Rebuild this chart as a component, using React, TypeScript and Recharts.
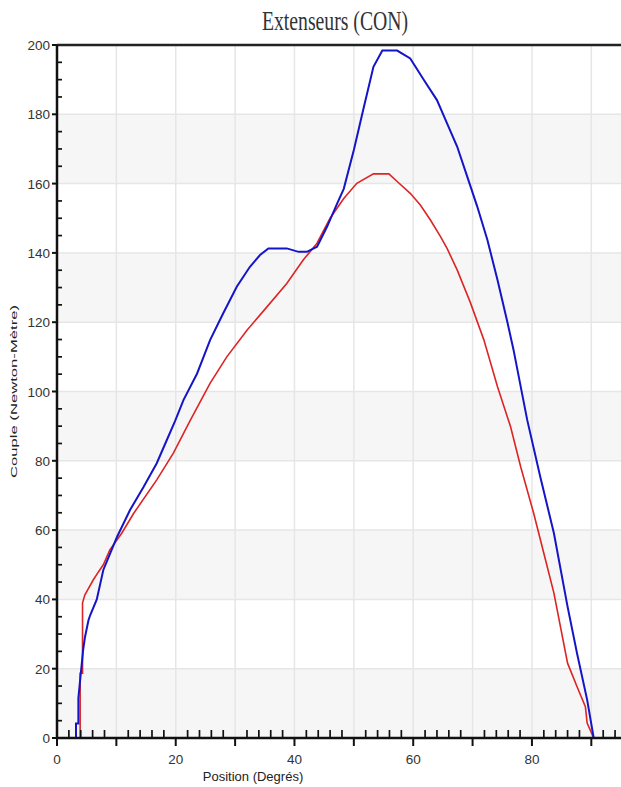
import React from 'react';
import { LineChart, Line, XAxis, YAxis, CartesianGrid, ReferenceLine } from 'recharts';

// Position (degrees) / torque (N·m) pairs
const blueCurve: [number, number][] = [
  [3.2, 0], [3.2, 4.2], [3.6, 4.2], [3.6, 11.5], [4.4, 25.4], [4.7, 29], [5.3, 34], [5.6, 35.5],
  [6.7, 40], [7.8, 48.5], [10.1, 58], [12.3, 65.8], [14.6, 72.5], [16.8, 79.3], [18.5, 86],
  [19.9, 91.5], [21.3, 97.5], [23.6, 105.2], [25.8, 114.9], [28, 122.6], [30.3, 130.3],
  [32.5, 136], [34.2, 139.4], [35.6, 141.3], [38.7, 141.3], [40.7, 140.3], [42.1, 140.3],
  [43.8, 141.8], [45.5, 147.6], [47.2, 154.3], [48.3, 158.5], [50, 169.7], [51.7, 182.2],
  [53.3, 193.7], [54.8, 198.4], [57.3, 198.4], [59.5, 196.1], [61.8, 189.9], [64, 184.1],
  [65.7, 177.4], [67.4, 170.7], [69.1, 162], [70.8, 153.3], [72.5, 143.7], [74.2, 132.2],
  [75.8, 120.5], [76.9, 112], [79.2, 91.8], [81.4, 75.4], [83.7, 59.1], [86, 37.9],
  [87.6, 24.4], [89.3, 11], [90.4, 0],
];

const redCurve: [number, number][] = [
  [3.9, 0], [3.9, 18.7], [4.3, 18.7], [4.3, 39], [4.7, 41.3], [6.1, 45.6], [7.0, 48], [7.8, 50],
  [8.9, 54.3], [10.9, 59.1], [12.9, 64.8], [16.8, 74.5], [19.6, 82.2], [22.4, 91.5],
  [25.8, 102.4], [28.6, 110], [32, 117.7], [35.4, 124.5], [38.7, 131.2], [41.5, 138],
  [43.8, 142.8], [46, 150], [48.3, 155.7], [50.5, 160.1], [53.3, 162.8], [55.9, 162.8],
  [57.3, 160.6], [59.5, 157.2], [61.2, 153.8], [62.9, 149.5], [64.6, 144.7], [65.7, 141.3],
  [67.4, 135.1], [69.6, 125.8], [71.9, 114.9], [74.2, 101.4], [76.4, 89.8], [78.1, 78.3],
  [80.3, 64.8], [82, 53.3], [83.7, 41.8], [86, 21.6], [87.6, 14.8], [89, 9], [89.3, 4.3],
  [90.4, 0],
];

const xTicks = [0, 2, 4, 6, 8, 10, 12, 14, 16, 18, 20, 22, 24, 26, 28, 30, 32, 34, 36, 38, 40, 42, 44, 46, 48, 50, 52, 54, 56, 58, 60, 62, 64, 66, 68, 70, 72, 74, 76, 78, 80, 82, 84, 86, 88, 90, 92, 94];
const yTicks = [0, 5, 10, 15, 20, 25, 30, 35, 40, 45, 50, 55, 60, 65, 70, 75, 80, 85, 90, 95, 100, 105, 110, 115, 120, 125, 130, 135, 140, 145, 150, 155, 160, 165, 170, 175, 180, 185, 190, 195, 200];
const xGrid = [10, 20, 30, 40, 50, 60, 70, 80, 90];
const yGrid = [0, 20, 40, 60, 80, 100, 120, 140, 160, 180, 200];

const title = 'Extenseurs (CON)';
const xTitle = 'Position (Degrés)';
const yTitle = 'Couple (Newton-Mètre)';

const blueData = blueCurve.map(([x, y]) => ({ x, y }));
const redData = redCurve.map(([x, y]) => ({ x, y }));

const FONT = '"Liberation Sans", Arial, sans-serif';

const XTick = (props: any) => {
  const { x, y, payload } = props;
  const v = payload.value;
  const major = v % 10 === 0;
  return (
    <g>
      {major ? (
        <line x1={x} x2={x} y1={y} y2={y + 8} stroke="#111" strokeWidth={2} />
      ) : (
        <line x1={x} x2={x} y1={y} y2={y - 8} stroke="#111" strokeWidth={1.7} />
      )}
      {v % 20 === 0 && (
        <text x={x} y={y + 26} textAnchor="middle" fontSize={13.5} fill="#333" fontFamily={FONT}>
          {v}
        </text>
      )}
    </g>
  );
};

const YTick = (props: any) => {
  const { x, y, payload } = props;
  const v = payload.value;
  const major = v % 20 === 0;
  return (
    <g>
      {major ? (
        <line x1={x - 5} x2={x} y1={y} y2={y} stroke="#111" strokeWidth={2} />
      ) : (
        <line x1={x} x2={x + 5} y1={y} y2={y} stroke="#111" strokeWidth={1.7} />
      )}
      {major && (
        <text x={x - 7} y={y + 5} textAnchor="end" fontSize={13.5} fill="#333" fontFamily={FONT}>
          {v}
        </text>
      )}
    </g>
  );
};

const YLabel = (props: any) => {
  const vb = props.viewBox || { x: 0, y: 45, width: 57, height: 693 };
  const cx = vb.x + 16.5;
  const cy = vb.y + vb.height / 2;
  return (
    <text
      x={cx}
      y={cy}
      transform={`rotate(-90 ${cx} ${cy})`}
      textAnchor="middle"
      fontSize={9.5}
      fill="#222"
      fontFamily={FONT}
      textLength={173}
      lengthAdjust="spacingAndGlyphs"
    >
      {yTitle}
    </text>
  );
};

const XLabel = (props: any) => {
  const vb = props.viewBox || { x: 57, y: 738, width: 564, height: 49 };
  return (
    <text x={vb.x + 196} y={vb.y + 43} textAnchor="middle" fontSize={13} fill="#222" fontFamily={FONT}>
      {xTitle}
    </text>
  );
};

export default function App() {
  return (
    <div style={{ position: 'absolute', left: 0, top: 0, width: 621, height: 787, background: '#fff', overflow: 'hidden' }}>
      <div
        style={{
          position: 'absolute',
          left: 0,
          top: 8,
          width: 670,
          textAlign: 'center',
          fontFamily: '"Liberation Serif", "Times New Roman", serif',
          fontSize: 27,
          lineHeight: '27px',
          color: '#333',
          transform: 'scaleX(0.73)',
          whiteSpace: 'nowrap',
        }}
      >
        {title}
      </div>
      <div style={{ position: 'absolute', left: 0, top: 0 }}>
        <LineChart width={621} height={787} margin={{ top: 45, right: 0, bottom: 0, left: 0 }}>
          <CartesianGrid
            stroke="#e6e6e6"
            strokeWidth={1.5}
            verticalValues={xGrid}
            horizontalValues={yGrid}
            horizontalFill={['#ffffff', '#f6f6f6']}
            fillOpacity={1}
          />
          <XAxis
            dataKey="x"
            type="number"
            domain={[0, 95]}
            ticks={xTicks}
            interval={0}
            allowDataOverflow
            height={49}
            tickSize={0}
            tickMargin={0}
            tickLine={false}
            tick={<XTick />}
            axisLine={{ stroke: '#111', strokeWidth: 2.5 }}
            label={XLabel}
          />
          <YAxis
            dataKey="y"
            type="number"
            domain={[0, 200]}
            ticks={yTicks}
            interval={0}
            allowDataOverflow
            width={57}
            tickSize={0}
            tickMargin={0}
            tickLine={false}
            tick={<YTick />}
            axisLine={{ stroke: '#111', strokeWidth: 2.5 }}
            label={YLabel}
          />
          <ReferenceLine y={200} stroke="#222" strokeWidth={2.5} />
          <Line
            data={redData}
            dataKey="y"
            type="linear"
            stroke="#dd2424"
            strokeWidth={1.6}
            dot={false}
            activeDot={false}
            isAnimationActive={false}
          />
          <Line
            data={blueData}
            dataKey="y"
            type="linear"
            stroke="#1515c8"
            strokeWidth={2}
            dot={false}
            activeDot={false}
            isAnimationActive={false}
          />
        </LineChart>
      </div>
    </div>
  );
}
